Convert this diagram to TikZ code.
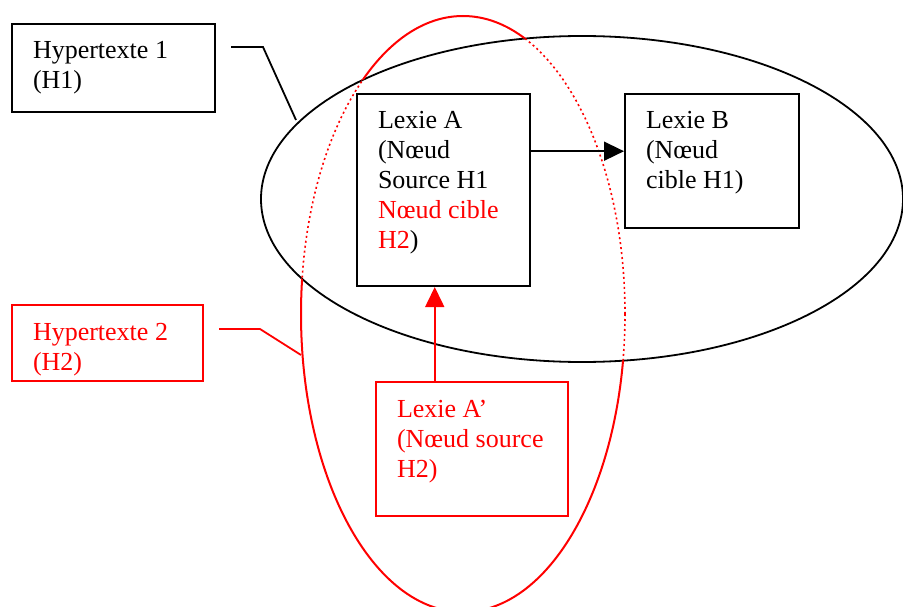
\documentclass[tikz,border=0pt]{standalone}
\usepackage{fontspec}
\setmainfont{Liberation Serif}
\usepackage{xcolor}
\usepackage{tikz}
\usetikzlibrary{arrows.meta,calc}

\newcommand{\boxtext}[3]{\parbox[c][#2][t]{#1}{\rule{0pt}{35pt}#3}}

\begin{document}
\begin{tikzpicture}[x=1pt, y=-1pt,
    lbox/.style={rectangle, draw, fill=white, line width=2pt, inner xsep=21pt, inner ysep=0pt, font=\fontsize{26}{30}\selectfont},
    rbox/.style={lbox, draw=red, text=red},
    callout/.style={line width=1.8pt},
    tip/.style={-{Triangle[length=20pt, width=19pt]}, line width=1.6pt}]

    \useasboundingbox (0,0) rectangle (903,607);

    \draw[line width=1.8pt] (582,199) ellipse [x radius=321, y radius=163];
    \begin{scope}[even odd rule]
        \clip (-10,-10) rectangle (913,617) (582,199) ellipse [x radius=321, y radius=163];
        \draw[red, line width=2pt] (463,314) ellipse [x radius=162, y radius=298];
    \end{scope}
    \begin{scope}
        \clip (582,199) ellipse [x radius=321, y radius=163];
        \draw[red, line width=1.6pt, dash pattern=on 2pt off 3pt] (463,314) ellipse [x radius=162, y radius=298];
    \end{scope}

    \coordinate (h1tail) at (231,47);
    \coordinate (h1tip) at (296,120);
    \coordinate (h2tail) at (219,329);
    \coordinate (h2tip) at (301,355);
    \draw[callout] (h1tail) -- ++(32,0) -- (h1tip);
    \draw[callout, red] (h2tail) -- ++(41,0) -- (h2tip);

    \node[lbox] (h1box) at (113.5,68) {\boxtext{161pt}{88pt}{Hypertexte 1\\(H1)}};
    \node[rbox] (h2box) at (107.5,343) {\boxtext{149pt}{76pt}{Hypertexte 2\\(H2)}};
    \node[lbox] (lexA) at (443.5,190) {\boxtext{131pt}{192pt}{Lexie A\\(Nœud\\Source H1\\\textcolor{red}{Nœud cible}\\\textcolor{red}{H2})}};
    \node[lbox] (lexB) at (712,161) {\boxtext{132pt}{134pt}{Lexie B\\(Nœud\\cible H1)}};
    \node[rbox] (lexAp) at (472,449) {\boxtext{150pt}{134pt}{Lexie A’\\(Nœud source\\H2)}};

    \draw[tip] ($(lexA.north east)!.3!(lexA.south east)$) coordinate (aout) -- (aout -| lexB.west);
    \coordinate (ain) at ($(lexA.south west)!.45!(lexA.south east)$);
    \draw[tip, red] (ain |- lexAp.north) -- (ain);

\end{tikzpicture}
\end{document}
